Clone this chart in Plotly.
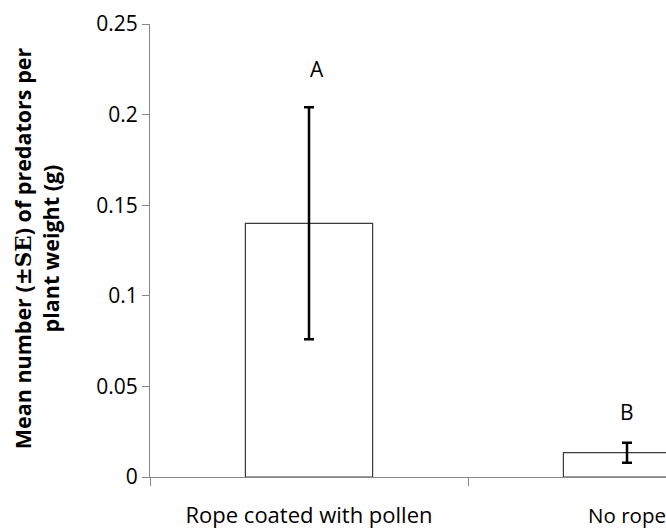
import plotly.graph_objects as go

categories = ["Rope coated with pollen", "No rope"]
means = [0.140, 0.0134]
se = [0.064, 0.0055]
letters = ["A", "B"]
letter_y = [0.225, 0.036]
y_ticks = [0, 0.05, 0.1, 0.15, 0.2, 0.25]
y_tick_text = ["0", "0.05", "0.1", "0.15", "0.2", "0.25"]

FONT = "Open Sans"
AX = "#868686"

fig = go.Figure()
fig.add_trace(go.Bar(
    x=categories, y=means, width=0.4,
    marker=dict(color="white", line=dict(color="#3a3a3a", width=1.2)),
    error_y=dict(type="data", array=se, visible=True, color="black",
                 thickness=2.5, width=5),
    showlegend=False,
))

for i, (c, t, yy) in enumerate(zip(categories, letters, letter_y)):
    fig.add_annotation(x=c, y=yy, text=t, showarrow=False,
                       xshift=8 if i == 0 else 0,
                       font=dict(family=FONT, size=21, color="black"))

fig.add_annotation(
    xref="paper", yref="paper", x=(36 - 150) / 516, y=0.505,
    xanchor="center", yanchor="middle", textangle=-90, showarrow=False,
    text="<b>Mean number (<span style='font-family:DejaVu Serif'>±SE</span>) of predators per<br>plant weight (g)</b>",
    font=dict(family=FONT, size=21.5, color="black"),
)

tick_text = [categories[0], "<span style='font-size:20.5px'>" + categories[1] + "</span>"]

fig.update_layout(
    width=666, height=530,
    margin=dict(l=150, r=0, t=24, b=53),
    plot_bgcolor="white", paper_bgcolor="white",
    font=dict(family=FONT, color="black"),
)
fig.update_xaxes(
    type="category",
    range=[-0.5, 0.5 + 198 / 318],
    tickmode="array", tickvals=categories, ticktext=tick_text,
    tickson="boundaries", ticks="outside", ticklen=8, tickcolor=AX,
    showline=True, linecolor=AX, linewidth=1,
    showgrid=False, zeroline=False, automargin=False,
    tickfont=dict(family=FONT, size=22, color="black"),
    ticklabelstandoff=19, ticklabeloverflow="allow",
)
fig.update_yaxes(
    range=[0, 0.25],
    tickmode="array", tickvals=y_ticks, ticktext=y_tick_text,
    ticks="outside", ticklen=7, tickcolor=AX,
    showline=True, linecolor=AX, linewidth=1,
    showgrid=False, zeroline=False, automargin=False,
    tickfont=dict(family=FONT, size=21, color="black"),
)

fig.write_html("out.html")
